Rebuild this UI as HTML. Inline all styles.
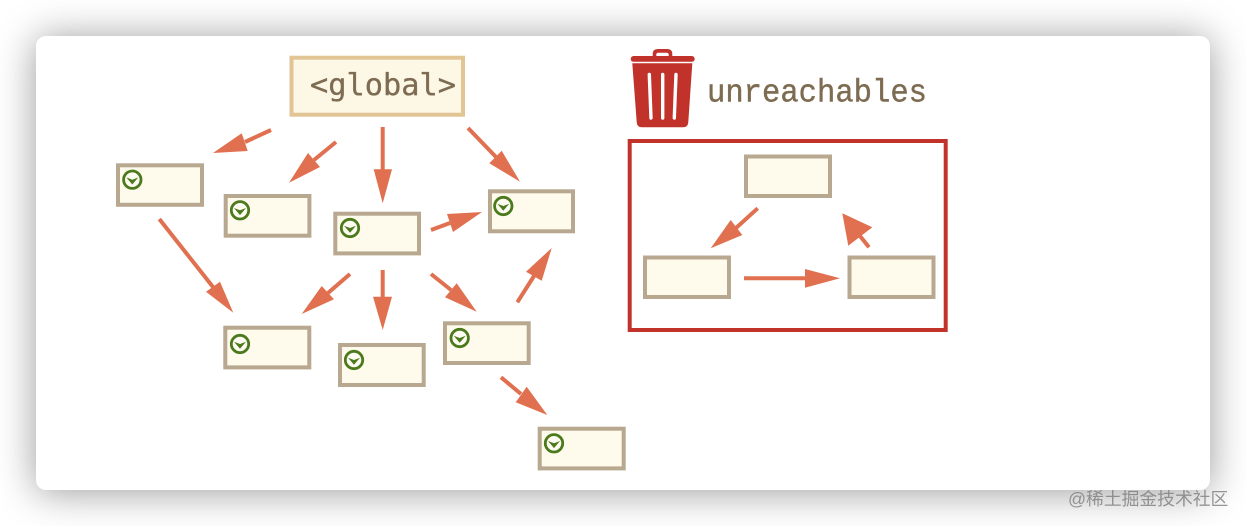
<!DOCTYPE html>
<html>
<head>
<meta charset="utf-8">
<style>
html,body{margin:0;padding:0;background:#fff;width:1246px;height:526px;overflow:hidden}
#card{position:absolute;left:36px;top:36px;width:1174px;height:454px;background:#fff;border-radius:10px;box-shadow:0 2px 40px rgba(0,0,0,.4)}
svg{position:absolute;left:0;top:0}
#wm{position:absolute;left:1068px;top:488px;font:17.8px/22px "Liberation Sans","Noto Sans CJK SC",sans-serif;color:rgba(125,125,125,.8);white-space:nowrap}
</style>
</head>
<body>
<div id="card"></div>
<svg width="1246" height="526" viewBox="0 0 1246 526" xmlns="http://www.w3.org/2000/svg">
<defs>
<g id="ic">
<circle cx="0" cy="0" r="8.700" fill="#fefcf2" stroke="#4b7a1c" stroke-width="2.800"/>
<path d="M-6 -2.300 L0 0 L6 -2.300 L0 4.800 Z" fill="#4b7a1c"/>
</g>
</defs>

<!-- global -->
<rect x="291.500" y="57.700" width="171.500" height="57" fill="#fdf7e6" stroke="#e2c595" stroke-width="4"/>
<text x="310" y="95" font-family="DejaVu Sans Mono, monospace" font-size="30" fill="#7e6c52" stroke="#7e6c52" stroke-width="0.300" textLength="146" lengthAdjust="spacingAndGlyphs">&lt;global&gt;</text>

<!-- nodes -->
<g fill="#fefaec" stroke="#b8a890" stroke-width="4">
<rect x="118" y="165.300" width="84" height="39.500"/>
<rect x="225.700" y="196" width="83.700" height="39.700"/>
<rect x="335.300" y="213.700" width="83.700" height="39.700"/>
<rect x="490" y="191.300" width="83" height="40"/>
<rect x="225.300" y="327.700" width="84" height="39.700"/>
<rect x="340" y="345" width="83.700" height="40"/>
<rect x="445" y="323.300" width="83.700" height="39.700"/>
<rect x="539.700" y="428.700" width="84" height="39.700"/>
<rect x="746" y="156.500" width="84" height="39.500"/>
<rect x="645" y="257.500" width="84" height="39.500"/>
<rect x="849.500" y="257.500" width="84" height="39.500"/>
</g>
<use href="#ic" x="132.300" y="179.700"/>
<use href="#ic" x="240" y="210.300"/>
<use href="#ic" x="350" y="228"/>
<use href="#ic" x="503.300" y="206"/>
<use href="#ic" x="240" y="344"/>
<use href="#ic" x="354" y="360"/>
<use href="#ic" x="459.700" y="338"/>
<use href="#ic" x="554" y="443.300"/>

<!-- arrows -->
<g stroke="#e0704f" stroke-width="4" fill="none">
<path d="M271 130L245 142"/>
<path d="M336 142L314 160"/>
<path d="M382.700 127V170"/>
<path d="M468 128L496 157"/>
<path d="M431 230L450 223"/>
<path d="M159.300 219L213 287"/>
<path d="M350 274L328 293"/>
<path d="M382.700 270V298"/>
<path d="M431 274L451 290"/>
<path d="M517.300 302.300L534 276"/>
<path d="M501 377.300L521 394"/>
<path d="M757.700 208.300L736 228"/>
<path d="M744 278.300H805"/>
<path d="M869 247.300L860 236"/>
</g>
<g fill="#e0704f">
<polygon points="213,153 241.700,133.300 247.700,151"/>
<polygon points="289,182.700 308,153 320,167"/>
<polygon points="382.700,203.300 373.700,169.300 392,169.300"/>
<polygon points="520,181.700 501.700,150.700 489.300,163.300"/>
<polygon points="482,212 447,214 453,232"/>
<polygon points="233.300,312.700 206,291.700 220,281.700"/>
<polygon points="301.700,314 321.700,286 334,299.300"/>
<polygon points="382.700,330 373,296.700 392,296.700"/>
<polygon points="476.700,311.700 456.700,283.300 445,297.300"/>
<polygon points="551.700,248 526,271.700 541.700,280.700"/>
<polygon points="547.300,415 526.700,386.700 515.700,402.300"/>
<polygon points="710.700,248.300 730.700,220 742.300,235"/>
<polygon points="840,278.300 805,269 805,287.700"/>
<polygon points="842.300,213.300 872.300,227.300 848.300,245.700"/>
</g>

<!-- trash -->
<g fill="#c1322a">
<path d="M652.700 57V54Q652.700 49 657.700 49H667.300Q672.300 49 672.300 54V57H668.700V54.500Q668.700 52.700 666.700 52.700H658.300Q656.300 52.700 656.300 54.500V57Z"/>
<rect x="630.700" y="56" width="64" height="5.800" rx="2.900"/>
<path d="M632.300 63.300H692.300L688.300 122Q688 127.300 683 127.300H642Q637 127.300 636.700 122Z"/>
</g>
<g stroke="#fff" stroke-width="3.400" stroke-linecap="round" fill="none">
<path d="M649.300 74.500L651 118"/>
<path d="M662.700 74.500V118"/>
<path d="M676 74.500L674.300 118"/>
</g>
<text x="707" y="101.700" font-family="Liberation Mono, monospace" font-size="32" fill="#7e6c52" stroke="#7e6c52" stroke-width="0.400" textLength="220" lengthAdjust="spacingAndGlyphs">unreachables</text>

<!-- red frame -->
<rect x="629.700" y="141" width="316" height="189" fill="none" stroke="#c1322a" stroke-width="4"/>
</svg>
<div id="wm">@稀土掘金技术社区</div>
</body>
</html>
